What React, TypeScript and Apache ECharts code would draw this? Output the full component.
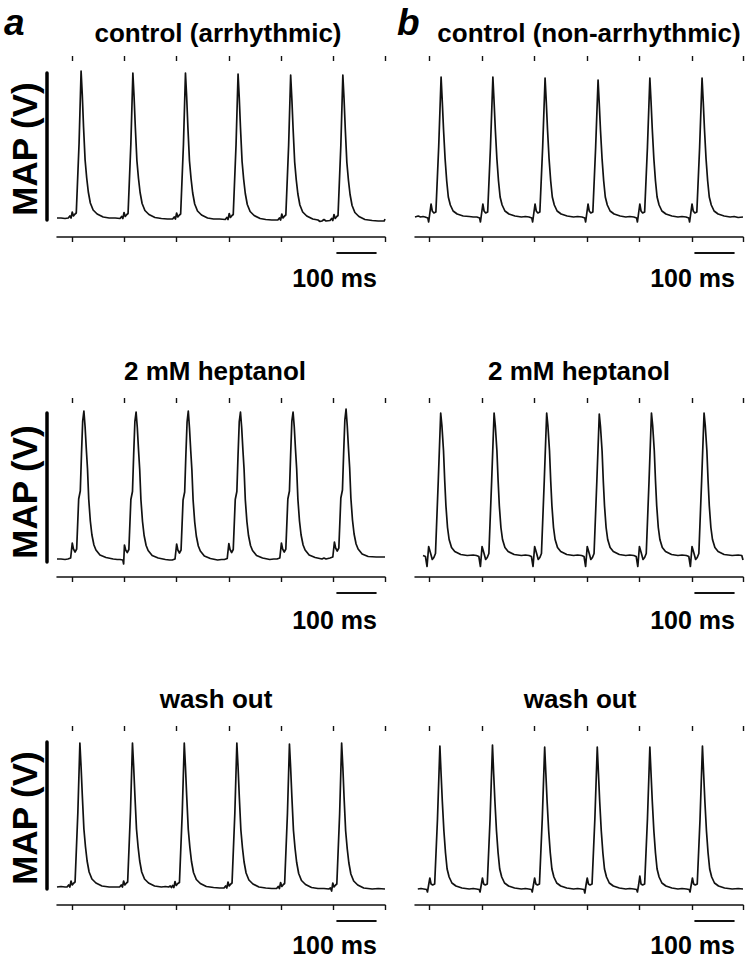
import React, { useEffect, useRef } from "react";
import * as echarts from "echarts";

// ---------- data (time in ms, MAP in V) ----------
const timeMax = 817;
const stimTicksLeft = [37, 167, 296, 428, 558, 687, 817];
const stimTicksRight = [35, 167, 296, 428, 558, 690, 817];
const scaleBarMs = [696, 796];
const scaleBarLevel = -0.16;
const scaleBarLabel = "100 ms";
const yAxisName = "MAP (V)";
const panelLetters = ["a", "b"];
const rowTitles = [
  ["control (arrhythmic)", "control (non-arrhythmic)"],
  ["2 mM heptanol", "2 mM heptanol"],
  ["wash out", "wash out"],
];
// MAP scale bar range per row [min, max]
const mapBarRange = [
  [0.17, 1.64],
  [0.15, 1.64],
  [0.16, 1.63],
];

const mapLeftControl = [
  [0,0.19],[10,0.19],[20,0.185],
  [28,0.19],[32,0.21],[35,0.19],[38,0.25],[41,0.21],[45,0.23],[48,0.24],[55,0.94],[60,1.66],[63,1.42],[66,1.11],[70,0.77],[74,0.59],[78,0.45],[83,0.34],[90,0.27],[100,0.23],[115,0.2],
  [130,0.19],[145,0.19],
  [157,0.185],[161,0.205],[164,0.185],[167,0.245],[170,0.205],[174,0.225],[177,0.235],[184,0.935],[189,1.64],[192,1.4],[195,1.105],[199,0.765],[203,0.585],[207,0.445],[212,0.335],[219,0.265],[229,0.225],[244,0.195],
  [260,0.185],[275,0.18],
  [288,0.18],[292,0.2],[295,0.18],[298,0.24],[301,0.2],[305,0.22],[308,0.23],[315,0.93],[320,1.64],[323,1.4],[326,1.1],[330,0.76],[334,0.58],[338,0.44],[343,0.33],[350,0.26],[360,0.22],[375,0.19],
  [390,0.18],[405,0.18],
  [419,0.175],[423,0.195],[426,0.175],[429,0.235],[432,0.195],[436,0.215],[439,0.225],[446,0.925],[451,1.63],[454,1.39],[457,1.095],[461,0.755],[465,0.575],[469,0.435],[474,0.325],[481,0.255],[491,0.215],[506,0.185],
  [520,0.175],[535,0.17],
  [550,0.17],[554,0.19],[557,0.17],[560,0.23],[563,0.19],[567,0.21],[570,0.22],[577,0.92],[582,1.62],[585,1.38],[588,1.09],[592,0.75],[596,0.57],[600,0.43],[605,0.32],[612,0.25],[622,0.21],[637,0.18],
  [650,0.17],[655,0.155],[660,0.16],[665,0.175],[670,0.16],
  [680,0.165],[684,0.185],[687,0.165],[690,0.225],[693,0.185],[697,0.205],[700,0.215],[707,0.915],[712,1.62],[715,1.38],[718,1.085],[722,0.745],[726,0.565],[730,0.425],[735,0.315],[742,0.245],[752,0.205],[767,0.175],
  [785,0.165],[800,0.16],[815,0.16],[817,0.18],
];

const mapRightControl = [
  [0,0.2],[8,0.21],[14,0.2],[20,0.205],
  [25,0.2],[32,0.19],[34,0.15],[37,0.24],[40,0.33],[43,0.26],[47,0.24],[52,0.25],[59,0.9],[65,1.6],[68,1.35],[71,1.08],[75,0.78],[79,0.56],[83,0.4],[88,0.32],[95,0.26],[105,0.23],[120,0.21],
  [135,0.205],[145,0.2],
  [154,0.2],[161,0.19],[163,0.15],[166,0.24],[169,0.33],[172,0.26],[176,0.24],[181,0.25],[188,0.9],[194,1.6],[197,1.35],[200,1.08],[204,0.78],[208,0.56],[212,0.4],[217,0.32],[224,0.26],[234,0.23],[249,0.21],
  [265,0.2],[275,0.205],
  [284,0.2],[291,0.19],[293,0.15],[296,0.24],[299,0.33],[302,0.26],[306,0.24],[311,0.25],[318,0.9],[324,1.59],[327,1.35],[330,1.08],[334,0.78],[338,0.56],[342,0.4],[347,0.32],[354,0.26],[364,0.23],[379,0.21],
  [395,0.2],[405,0.205],
  [416,0.2],[423,0.19],[425,0.15],[428,0.24],[431,0.33],[434,0.26],[438,0.24],[443,0.25],[450,0.9],[456,1.57],[459,1.33],[462,1.07],[466,0.78],[470,0.56],[474,0.4],[479,0.32],[486,0.26],[496,0.23],[511,0.21],
  [525,0.2],[535,0.205],
  [545,0.2],[552,0.19],[554,0.15],[557,0.24],[560,0.33],[563,0.26],[567,0.24],[572,0.25],[579,0.9],[585,1.59],[588,1.35],[591,1.08],[595,0.78],[599,0.56],[603,0.4],[608,0.32],[615,0.26],[625,0.23],[640,0.21],
  [655,0.2],[665,0.205],
  [675,0.2],[682,0.19],[684,0.15],[687,0.24],[690,0.33],[693,0.26],[697,0.24],[702,0.25],[709,0.9],[715,1.59],[718,1.35],[721,1.08],[725,0.78],[729,0.56],[733,0.4],[738,0.32],[745,0.26],[755,0.23],[770,0.21],
  [785,0.2],[795,0.205],[805,0.195],[817,0.2],
];

const mapLeftHeptanol = [
  [0,0.18],[10,0.18],[20,0.175],
  [27,0.18],[34,0.19],[38,0.34],[41,0.28],[45,0.25],[49,0.28],[54,0.78],[58,0.86],[61,1.23],[64,1.56],[67,1.66],[70,1.5],[73,1.28],[76,1.08],[79,0.78],[83,0.56],[87,0.42],[92,0.32],[97,0.27],[107,0.22],[122,0.195],
  [140,0.18],[150,0.175],
  [157,0.175],[164,0.17],[166,0.13],[168,0.32],[171,0.27],[175,0.245],[179,0.275],[184,0.775],[188,0.855],[191,1.225],[194,1.555],[197,1.65],[200,1.495],[203,1.275],[206,1.075],[209,0.775],[213,0.555],[217,0.415],[222,0.315],[227,0.265],[237,0.215],[252,0.19],
  [270,0.175],[280,0.17],
  [287,0.17],[294,0.18],[298,0.33],[301,0.27],[305,0.24],[309,0.27],[314,0.77],[318,0.85],[321,1.22],[324,1.55],[327,1.66],[330,1.49],[333,1.27],[336,1.07],[339,0.77],[343,0.55],[347,0.41],[352,0.31],[357,0.26],[367,0.21],[382,0.185],
  [400,0.17],[410,0.175],
  [417,0.175],[424,0.185],[428,0.335],[431,0.275],[435,0.245],[439,0.275],[444,0.775],[448,0.855],[451,1.225],[454,1.555],[457,1.65],[460,1.495],[463,1.275],[466,1.075],[469,0.775],[473,0.555],[477,0.415],[482,0.315],[487,0.265],[497,0.215],[512,0.19],
  [530,0.175],[540,0.18],
  [548,0.18],[555,0.19],[559,0.34],[562,0.28],[566,0.25],[570,0.28],[575,0.78],[579,0.86],[582,1.23],[585,1.56],[588,1.65],[591,1.5],[594,1.28],[597,1.08],[600,0.78],[604,0.56],[608,0.42],[613,0.32],[618,0.27],[628,0.22],[643,0.195],
  [660,0.18],[665,0.19],[670,0.18],
  [680,0.19],[687,0.2],[691,0.35],[694,0.29],[698,0.26],[702,0.29],[707,0.79],[711,0.87],[714,1.24],[717,1.57],[720,1.68],[723,1.51],[726,1.29],[729,1.09],[732,0.79],[736,0.57],[740,0.43],[745,0.33],[750,0.28],[760,0.23],[775,0.205],
  [795,0.2],[817,0.2],
];

const mapRightHeptanol = [
  [20,0.215],[26,0.205],[30,0.105],[34,0.305],[39,0.235],[43,0.175],[47,0.195],[51,0.235],[58,0.965],[64,1.64],[67,1.515],[71,1.265],[74,0.965],[77,0.715],[81,0.495],[85,0.375],[91,0.295],[99,0.255],[114,0.225],
  [130,0.215],[145,0.22],
  [153,0.215],[159,0.205],[163,0.105],[167,0.305],[172,0.235],[176,0.175],[180,0.195],[184,0.235],[191,0.965],[197,1.64],[200,1.515],[204,1.265],[207,0.965],[210,0.715],[214,0.495],[218,0.375],[224,0.295],[232,0.255],[247,0.225],
  [265,0.215],[275,0.22],
  [284,0.215],[290,0.205],[294,0.105],[298,0.305],[303,0.235],[307,0.175],[311,0.195],[315,0.235],[322,0.965],[328,1.64],[331,1.515],[335,1.265],[338,0.965],[341,0.715],[345,0.495],[349,0.375],[355,0.295],[363,0.255],[378,0.225],
  [395,0.215],[405,0.22],
  [415,0.215],[421,0.205],[425,0.105],[429,0.305],[434,0.235],[438,0.175],[442,0.195],[446,0.235],[453,0.965],[459,1.63],[462,1.505],[466,1.26],[469,0.96],[472,0.715],[476,0.495],[480,0.375],[486,0.295],[494,0.255],[509,0.225],
  [525,0.215],[535,0.22],
  [545,0.215],[551,0.205],[555,0.105],[559,0.305],[564,0.235],[568,0.175],[572,0.195],[576,0.235],[583,0.965],[589,1.64],[592,1.515],[596,1.265],[599,0.965],[602,0.715],[606,0.495],[610,0.375],[616,0.295],[624,0.255],[639,0.225],
  [655,0.215],[665,0.22],
  [676,0.215],[682,0.205],[686,0.105],[690,0.305],[695,0.235],[699,0.175],[703,0.195],[707,0.235],[714,0.965],[720,1.64],[723,1.515],[727,1.265],[730,0.965],[733,0.715],[737,0.495],[741,0.375],[747,0.295],[755,0.255],[770,0.225],
  [790,0.215],[805,0.22],[814,0.215],[817,0.17],
];

const mapLeftWashout = [
  [0,0.18],[10,0.185],[20,0.18],
  [25,0.18],[29,0.2],[32,0.18],[35,0.24],[38,0.2],[42,0.22],[45,0.23],[52,0.93],[57,1.62],[60,1.38],[63,1.1],[67,0.76],[71,0.58],[75,0.44],[80,0.33],[87,0.26],[97,0.22],[112,0.19],
  [130,0.18],[145,0.18],
  [156,0.18],[160,0.2],[163,0.18],[166,0.24],[169,0.2],[173,0.22],[176,0.23],[183,0.93],[188,1.62],[191,1.38],[194,1.1],[198,0.76],[202,0.58],[206,0.44],[211,0.33],[218,0.26],[228,0.22],[243,0.19],
  [260,0.18],[270,0.185],
  [278,0.18],[282,0.19],[285,0.175],[288,0.195],[291,0.175],[294,0.235],[297,0.195],[301,0.215],[305,0.225],[312,0.925],[317,1.62],[320,1.38],[323,1.095],[327,0.755],[331,0.575],[335,0.435],[340,0.325],[347,0.255],[357,0.215],[372,0.185],
  [390,0.175],[405,0.17],
  [416,0.17],[420,0.19],[423,0.17],[426,0.23],[429,0.19],[433,0.21],[436,0.22],[443,0.92],[448,1.62],[451,1.38],[454,1.09],[458,0.75],[462,0.57],[466,0.43],[471,0.32],[478,0.25],[488,0.21],[503,0.18],
  [520,0.17],[535,0.165],
  [547,0.165],[551,0.185],[554,0.165],[557,0.225],[560,0.185],[564,0.205],[567,0.215],[574,0.915],[579,1.61],[582,1.37],[585,1.085],[589,0.745],[593,0.565],[597,0.425],[602,0.315],[609,0.245],[619,0.205],[634,0.175],
  [650,0.165],[665,0.165],
  [677,0.16],[681,0.17],[684,0.14],[687,0.22],[690,0.18],[694,0.2],[697,0.21],[704,0.91],[709,1.62],[712,1.38],[715,1.08],[719,0.74],[723,0.56],[727,0.42],[732,0.31],[739,0.24],[749,0.2],[764,0.17],
  [785,0.16],[800,0.165],[817,0.16],
];

const mapRightWashout = [
  [7,0.16],[15,0.165],
  [22,0.16],[29,0.155],[31,0.13],[34,0.2],[37,0.27],[40,0.21],[44,0.2],[49,0.21],[56,0.86],[62,1.59],[65,1.31],[68,1.04],[72,0.74],[76,0.52],[80,0.36],[85,0.28],[92,0.22],[102,0.19],[117,0.17],
  [135,0.16],[145,0.165],
  [153,0.16],[160,0.155],[162,0.13],[165,0.2],[168,0.27],[171,0.21],[175,0.2],[180,0.21],[187,0.86],[193,1.6],[196,1.31],[199,1.04],[203,0.74],[207,0.52],[211,0.36],[216,0.28],[223,0.22],[233,0.19],[248,0.17],
  [265,0.16],[275,0.165],
  [283,0.16],[290,0.155],[292,0.13],[295,0.2],[298,0.27],[301,0.21],[305,0.2],[310,0.21],[317,0.86],[323,1.58],[326,1.31],[329,1.04],[333,0.74],[337,0.52],[341,0.36],[346,0.28],[353,0.22],[363,0.19],[378,0.17],
  [395,0.16],[405,0.165],
  [414,0.16],[421,0.155],[423,0.12],[426,0.2],[429,0.27],[432,0.21],[436,0.2],[441,0.21],[448,0.86],[454,1.58],[457,1.31],[460,1.04],[464,0.74],[468,0.52],[472,0.36],[477,0.28],[484,0.22],[494,0.19],[509,0.17],
  [525,0.16],[535,0.165],
  [545,0.16],[552,0.155],[554,0.13],[557,0.2],[560,0.29],[563,0.21],[567,0.2],[572,0.21],[579,0.86],[585,1.58],[588,1.31],[591,1.04],[595,0.74],[599,0.52],[603,0.36],[608,0.28],[615,0.22],[625,0.19],[640,0.17],
  [655,0.16],[665,0.165],
  [676,0.16],[683,0.155],[685,0.13],[688,0.2],[691,0.27],[694,0.21],[698,0.2],[703,0.21],[710,0.86],[716,1.59],[719,1.31],[722,1.04],[726,0.74],[730,0.52],[734,0.36],[739,0.28],[746,0.22],[756,0.19],[771,0.17],
  [790,0.16],[805,0.165],[817,0.16],
];

const traces = [
  [mapLeftControl, mapRightControl],
  [mapLeftHeptanol, mapRightHeptanol],
  [mapLeftWashout, mapRightWashout],
];

// ---------- layout ----------
const W = 746;
const H = 959;
const FONT = "'Liberation Sans', Arial, Helvetica, sans-serif";
const colLeft = [57, 415];
const colWidth = 328;
const rowLayout = [
  { barTop: 73, barBottom: 220, axisY: 237, titleY: 33, msY: 278, mapY: 149 },
  { barTop: 413, barBottom: 562, axisY: 577, titleY: 371, msY: 620, mapY: 492 },
  { barTop: 742, barBottom: 889, axisY: 905, titleY: 699, msY: 945, mapY: 818 },
];
const titleCenters = [
  [218, 589],
  [215, 579],
  [216, 580],
];
const msRight = [377, 735];
const letterX = [4, 397];
const INK = "#111";

function buildOption() {
  const grid: any[] = [];
  const xAxis: any[] = [];
  const yAxis: any[] = [];
  const series: any[] = [];
  const graphic: any[] = [];

  rowLayout.forEach((row, r) => {
    [0, 1].forEach((c) => {
      const g = grid.length;
      grid.push({
        left: colLeft[c],
        width: colWidth,
        top: row.barTop,
        height: row.barBottom - row.barTop,
        containLabel: false,
      });
      const ticks = c === 0 ? stimTicksLeft : stimTicksRight;
      const off = row.axisY - row.barBottom;
      const baseX = {
        type: "value",
        gridIndex: g,
        min: 0,
        max: timeMax,
        offset: off,
        axisLabel: { show: false },
        splitLine: { show: false },
      };
      xAxis.push({
        ...baseX,
        axisLine: { show: true, onZero: false, lineStyle: { color: INK, width: 1.5 } },
        axisTick: { show: true, inside: false, length: 5, customValues: ticks, lineStyle: { color: INK, width: 1.4 } },
      });
      xAxis.push({
        ...baseX,
        axisLine: { show: false, onZero: false },
        axisTick: { show: true, inside: true, length: 5, customValues: ticks, lineStyle: { color: INK, width: 1.4 } },
      });
      yAxis.push({
        type: "value",
        gridIndex: g,
        min: mapBarRange[r][0],
        max: mapBarRange[r][1],
        offset: 10,
        axisLine: { show: c === 0, onZero: false, lineStyle: { color: "#000", width: 3.5 } },
        axisTick: { show: false },
        axisLabel: { show: false },
        splitLine: { show: false },
      });
      const xi = xAxis.length - 2;
      series.push({
        type: "line",
        xAxisIndex: xi,
        yAxisIndex: g,
        data: traces[r][c],
        symbol: "none",
        showSymbol: false,
        clip: false,
        silent: true,
        lineStyle: { color: INK, width: 1.7, join: "round" },
      });
      series.push({
        type: "line",
        xAxisIndex: xi,
        yAxisIndex: g,
        data: [
          [scaleBarMs[0], scaleBarLevel],
          [scaleBarMs[1], scaleBarLevel],
        ],
        symbol: "none",
        showSymbol: false,
        clip: false,
        silent: true,
        lineStyle: { color: INK, width: 2 },
      });

      graphic.push({
        type: "text",
        x: titleCenters[r][c],
        y: row.titleY,
        style: {
          text: rowTitles[r][c],
          fontFamily: FONT,
          fontWeight: "bold",
          fontSize: 26,
          lineHeight: 28,
          fill: "#000",
          align: "center",
          verticalAlign: "middle",
        },
      });
      graphic.push({
        type: "text",
        x: msRight[c],
        y: row.msY,
        style: {
          text: scaleBarLabel,
          fontFamily: FONT,
          fontWeight: "bold",
          fontSize: 25,
          lineHeight: 22,
          fill: "#000",
          align: "right",
          verticalAlign: "middle",
        },
      });
    });
    graphic.push({
      type: "text",
      x: 24,
      y: row.mapY,
      rotation: Math.PI / 2,
      style: {
        text: yAxisName,
        fontFamily: FONT,
        fontWeight: "bold",
        fontSize: 35,
        lineHeight: 34,
        fill: "#000",
        align: "center",
        verticalAlign: "middle",
      },
    });
  });

  panelLetters.forEach((letter, i) => {
    graphic.push({
      type: "text",
      x: letterX[i],
      y: 22,
      style: {
        text: letter,
        fontFamily: FONT,
        fontWeight: "bold",
        fontStyle: "italic",
        fontSize: 37,
        lineHeight: 34,
        fill: "#000",
        align: "left",
        verticalAlign: "middle",
      },
    });
  });

  return {
    animation: false,
    backgroundColor: "#fff",
    grid,
    xAxis,
    yAxis,
    series,
    graphic,
  };
}

export default function App() {
  const ref = useRef<HTMLDivElement>(null);
  useEffect(() => {
    if (!ref.current) return;
    const chart = echarts.init(ref.current, undefined, { renderer: "svg" });
    chart.setOption(buildOption() as any);
    return () => chart.dispose();
  }, []);
  return (
    <div
      ref={ref}
      style={{ position: "absolute", left: 0, top: 0, width: W, height: H, background: "#fff" }}
    />
  );
}
